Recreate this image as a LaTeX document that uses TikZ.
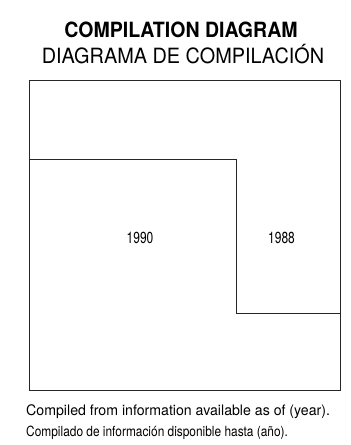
\documentclass[tikz,border=0pt]{standalone}
\usepackage{fontspec}
\setmainfont{TeX Gyre Heros}
\begin{document}
\begin{tikzpicture}[x=1pt,y=-1pt,
  frame/.style={draw=black!85,line width=0.9pt},
  lbl/.style={inner sep=0pt,anchor=base},
  foot/.style={inner sep=0pt,anchor=base west}]
\useasboundingbox[fill=white] (0,0) rectangle (351,445);
\node[lbl] (t1) at (181,37.5) {\fontsize{21}{24}\selectfont\bfseries\scalebox{0.93}[1]{COMPILATION DIAGRAM}};
\node[lbl] (t2) at (183,63) {\fontsize{21}{24}\selectfont\scalebox{0.946}[1]{DIAGRAMA DE COMPILACIÓN}};
\coordinate (tl) at (29,80);
\coordinate (br) at (340,390);
\draw[frame] (tl) rectangle (br);
\coordinate (a) at (29,159.5);
\coordinate (b) at (236,159.5);
\coordinate (c) at (236,313);
\coordinate (d) at (340,313);
\draw[frame] (a) -- (b) -- (c) -- (d);
\node[lbl] (y1) at (140,243.3) {\fontsize{16}{18}\selectfont\scalebox{0.75}[1]{1990}};
\node[lbl] (y2) at (281.5,243.3) {\fontsize{16}{18}\selectfont\scalebox{0.75}[1]{1988}};
\node[foot] (f1) at (26,415) {\fontsize{14.5}{16}\selectfont\scalebox{0.975}[1]{Compiled from information available as of (year).}};
\node[foot] (f2) at (26,436.5) {\fontsize{14}{16}\selectfont\scalebox{0.85}[1]{Compilado de información disponible hasta (año).}};
\end{tikzpicture}
\end{document}
